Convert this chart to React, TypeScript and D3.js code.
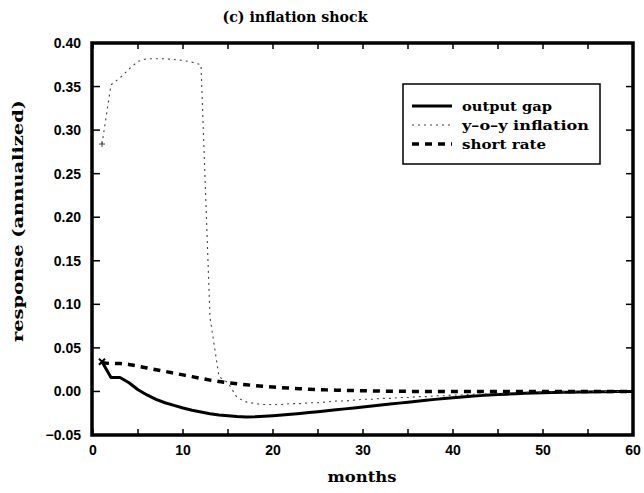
import React from "react";
import * as d3 from "d3";

const months: number[] = d3.range(1, 61);

const outputGap: number[] = [
  0.034, 0.016, 0.016, 0.010, 0.002, -0.004, -0.009, -0.013, -0.016, -0.019,
  -0.0215, -0.0235, -0.0255, -0.027, -0.028, -0.0288, -0.0292, -0.029, -0.0285, -0.0278,
  -0.027, -0.0261, -0.0252, -0.0242, -0.0232, -0.0222, -0.0211, -0.02, -0.0189, -0.0178,
  -0.0167, -0.0156, -0.0145, -0.0134, -0.0123, -0.0112, -0.0101, -0.0091, -0.0081, -0.0072,
  -0.0063, -0.0055, -0.0048, -0.0042, -0.0036, -0.0031, -0.0026, -0.0022, -0.0018, -0.0015,
  -0.0012, -0.001, -0.0008, -0.0006, -0.0005, -0.0004, -0.0003, -0.0002, -0.0001, 0,
];

const inflation: number[] = [
  0.284, 0.352, 0.360, 0.370, 0.379, 0.382, 0.382, 0.382, 0.381, 0.380,
  0.378, 0.375, 0.085, 0.017, 0.010, -0.007, -0.012, -0.014, -0.015, -0.015,
  -0.015, -0.014, -0.014, -0.013, -0.013, -0.012, -0.011, -0.011, -0.010, -0.009,
  -0.009, -0.008, -0.008, -0.007, -0.007, -0.006, -0.006, -0.005, -0.005, -0.004,
  -0.004, -0.0035, -0.003, -0.0025, -0.002, -0.002, -0.0015, -0.001, -0.001, -0.0008,
  -0.0006, -0.0005, -0.0004, -0.0003, -0.0002, -0.0001, 0, 0, 0, 0,
];

const shortRate: number[] = [
  0.033, 0.032, 0.032, 0.031, 0.029, 0.027, 0.025, 0.023, 0.021, 0.019,
  0.017, 0.015, 0.013, 0.0115, 0.010, 0.0088, 0.0077, 0.0067, 0.0058, 0.005,
  0.0043, 0.0037, 0.0031, 0.0026, 0.0022, 0.0018, 0.0015, 0.0012, 0.001, 0.0008,
  0.0006, 0.0004, 0.0003, 0.0002, 0.0001, 0, 0, 0, 0, 0,
  0, 0, 0, 0, 0, 0, 0, 0, 0, 0,
  0, 0, 0, 0, 0, 0, 0, 0, 0, 0,
];

const xTickLabels: number[] = [0, 10, 20, 30, 40, 50, 60];
const xMinorTicks: number[] = d3.range(0, 61, 5);
const yTickValues: number[] = [-0.05, 0, 0.05, 0.1, 0.15, 0.2, 0.25, 0.3, 0.35, 0.4];

const title = "(c) inflation shock";
const xLabel = "months";
const yLabel = "response (annualized)";
const legendLabels: string[] = ["output gap", "y\u2013o\u2013y inflation", "short rate"];
const legendWidths: number[] = [90, 127, 84];

const W = 644;
const H = 493;
const L = 93;
const R = 633;
const T = 43;
const B = 435;

export default function App() {
  const x = d3.scaleLinear().domain([0, 60]).range([L, R]);
  const y = d3.scaleLinear().domain([-0.05, 0.4]).range([B, T]);

  const line = (vals: number[]) =>
    d3
      .line<number>()
      .x((_, i) => x(months[i]))
      .y((d) => y(d))(vals) || "";

  const styles = [
    { stroke: "#000", width: 3, dash: undefined as string | undefined },
    { stroke: "#444", width: 1.1, dash: "2 4" },
    { stroke: "#000", width: 3.5, dash: "7 6" },
  ];
  const series = [outputGap, inflation, shortRate];

  const serifFont = "'DejaVu Serif', serif";
  const tickFont = "'Liberation Sans', Arial, sans-serif";

  return (
    <svg width={W} height={H} style={{ position: "absolute", left: 0, top: 0, background: "#fff" }}>
      <rect x={0} y={0} width={W} height={H} fill="#fff" />
      {/* title */}
      <text x={295} y={22} textAnchor="middle" fontFamily={serifFont} fontWeight="bold" fontSize={15}
        textLength={145} lengthAdjust="spacingAndGlyphs">{title}</text>

      {/* series */}
      {series.map((s, i) => (
        <path key={i} d={line(s)} fill="none" stroke={styles[i].stroke} strokeWidth={styles[i].width}
          strokeDasharray={styles[i].dash} strokeLinejoin="round" />
      ))}
      {/* start markers */}
      <path d={`M${x(months[0]) - 3},${y(inflation[0])}h6M${x(months[0])},${y(inflation[0]) - 3}v6`} stroke="#444" strokeWidth={1} />
      <path d={`M${x(months[0]) - 3},${y(outputGap[0]) - 3}l6,6M${x(months[0]) + 3},${y(outputGap[0]) - 3}l-6,6`} stroke="#000" strokeWidth={2} />

      {/* ticks */}
      {xMinorTicks.map((t) => (
        <g key={"xt" + t}>
          <line x1={x(t)} x2={x(t)} y1={B} y2={B - 6} stroke="#000" strokeWidth={1.5} />
          <line x1={x(t)} x2={x(t)} y1={T} y2={T + 6} stroke="#000" strokeWidth={1.5} />
        </g>
      ))}
      {yTickValues.map((t) => (
        <g key={"yt" + t}>
          <line x1={L} x2={L + 7} y1={y(t)} y2={y(t)} stroke="#000" strokeWidth={1.5} />
          <line x1={R} x2={R - 7} y1={y(t)} y2={y(t)} stroke="#000" strokeWidth={1.5} />
          <text x={81} y={y(t) + 5} textAnchor="end" fontFamily={tickFont} fontWeight="bold" fontSize={14}>
            {d3.format(".2f")(t)}
          </text>
        </g>
      ))}
      {xTickLabels.map((t) => (
        <text key={"xl" + t} x={x(t)} y={455} textAnchor="middle" fontFamily={tickFont} fontWeight="bold" fontSize={14}>
          {t}
        </text>
      ))}

      {/* frame */}
      <rect x={L - 1} y={T} width={R - L + 1} height={B - T} fill="none" stroke="#000" strokeWidth={3.5} />

      {/* axis labels */}
      <text x={362} y={482} textAnchor="middle" fontFamily={serifFont} fontWeight="bold" fontSize={14}
        textLength={69} lengthAdjust="spacingAndGlyphs">{xLabel}</text>
      <text transform={`translate(23,${221}) rotate(-90)`} textAnchor="middle" fontFamily={serifFont}
        fontWeight="bold" fontSize={15} textLength={242} lengthAdjust="spacingAndGlyphs">{yLabel}</text>

      {/* legend */}
      <rect x={403} y={84} width={197} height={80} fill="#fff" stroke="#000" strokeWidth={1.5} />
      {legendLabels.map((lab, i) => {
        const ly = 106 + i * 19;
        return (
          <g key={"lg" + i}>
            <line x1={412} x2={452} y1={ly} y2={ly} stroke={styles[i].stroke} strokeWidth={styles[i].width}
              strokeDasharray={styles[i].dash} />
            <text x={462} y={ly + 4.5} fontFamily={serifFont} fontWeight="bold" fontSize={13.5}
              textLength={legendWidths[i]} lengthAdjust="spacingAndGlyphs">{lab}</text>
          </g>
        );
      })}
    </svg>
  );
}
